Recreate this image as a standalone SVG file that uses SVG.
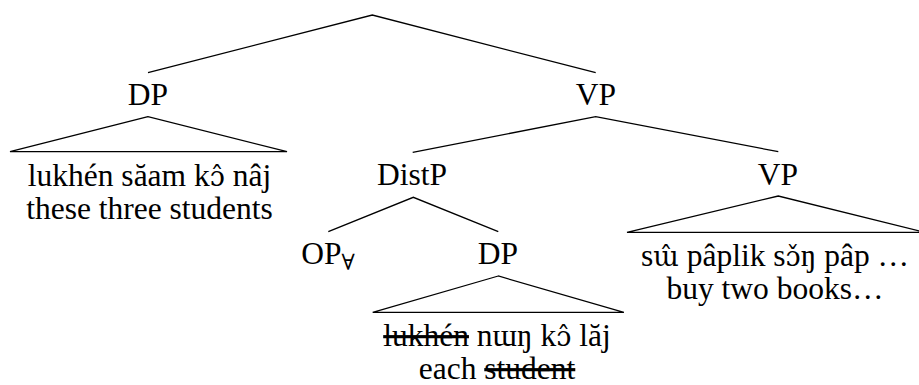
<svg xmlns="http://www.w3.org/2000/svg" width="919" height="385" viewBox="0 0 919 385">
<style>
line,polyline,polygon{stroke:#000;stroke-width:1.3;fill:none}
.m{font-family:"DejaVu Serif",serif;font-size:27px}
</style>
<g id="connectors">
<polyline points="148,72.7 372.3,15 595.7,72.7"/>
<polyline points="412.7,152.3 595.7,116.7 778.3,151.7"/>
<polyline points="328.3,231.7 413.3,197.3 498.3,231.7"/>
</g>
<g font-family="Liberation Serif, Times New Roman, Tinos, DejaVu Serif, serif" font-size="31.5" text-anchor="middle" fill="#000">
<g id="node-DP1">
<text x="148" y="105">DP</text>
<polygon points="148,116.7 10,151.7 287,151.7"/>
<text x="149.5" y="186">lukhén săam k<tspan class="m">ɔ̂</tspan> nâj</text>
<text x="149.5" y="219">these three students</text>
</g>
<g id="node-VP1">
<text x="596" y="105">VP</text>
</g>
<g id="node-DistP">
<text x="412" y="185">DistP</text>
</g>
<g id="node-OP">
<text x="328" y="264">OP<tspan font-size="22" dy="6">∀</tspan></text>
</g>
<g id="node-DP2">
<text x="498" y="264">DP</text>
<polygon points="498.3,276 372.7,312.3 623.9,312.3"/>
<text x="497" y="346"><tspan text-decoration="line-through">lukhén</tspan> nɯŋ k<tspan class="m">ɔ̂</tspan> lăj</text>
<text x="497" y="379">each <tspan text-decoration="line-through">student</tspan></text>
</g>
<g id="node-VP2">
<text x="778" y="185">VP</text>
<polygon points="778.3,196 627,232.3 925,232.3"/>
<text x="775" y="266">s<tspan class="m">ɯ̂</tspan> pâplik s<tspan class="m">ɔ̌</tspan>ŋ pâp …</text>
<text x="775" y="299">buy two books…</text>
</g>
</g>
</svg>
